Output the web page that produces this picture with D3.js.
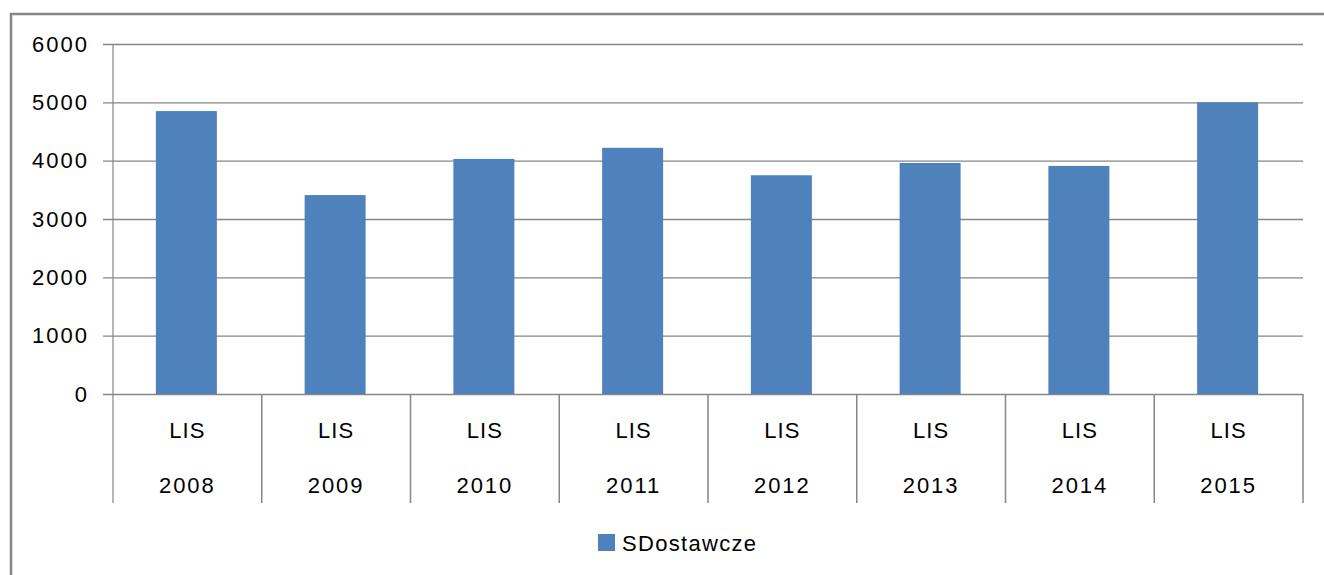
<!DOCTYPE html>
<html>
<head>
<meta charset="utf-8">
<script src="https://cdn.jsdelivr.net/npm/d3@7"></script>
<style>
  body { margin: 0; background: #fff; }
  svg text { font-family: "Liberation Sans", Arial, sans-serif; fill: #000; }
</style>
</head>
<body>
<div id="chart"></div>
<script>
const years = ["2008", "2009", "2010", "2011", "2012", "2013", "2014", "2015"];
const groupLabels = ["LIS", "LIS", "LIS", "LIS", "LIS", "LIS", "LIS", "LIS"];
const values = [4850, 3410, 4030, 4220, 3750, 3960, 3910, 5000];
const yTicks = [0, 1000, 2000, 3000, 4000, 5000, 6000];
const seriesName = "SDostawcze";

const width = 1324, height = 575;
const margin = { top: 44, left: 113, right: 21, bottom: 181 };
const plotW = width - margin.left - margin.right;
const plotH = height - margin.top - margin.bottom;
const grid = "#868686";
const barColor = "#4F81BD";

const data = years.map((y, i) => ({ year: y, label: groupLabels[i], value: values[i] }));

const svg = d3.select("#chart").append("svg")
  .attr("width", width)
  .attr("height", height);

// outer chart border
svg.append("rect")
  .attr("x", 11).attr("y", 14)
  .attr("width", width + 10).attr("height", height + 10)
  .attr("fill", "none")
  .attr("stroke", grid)
  .attr("stroke-width", 2.5);

const chart = svg.append("g")
  .attr("transform", `translate(${margin.left},${margin.top})`);

const x = d3.scaleBand()
  .domain(years)
  .range([0, plotW]);

const y = d3.scaleLinear()
  .domain([0, 6000])
  .range([plotH, 0]);

// gridlines + y axis
const yAxis = chart.append("g")
  .call(d3.axisLeft(y).tickValues(yTicks).tickFormat(d3.format("d"))
    .tickSize(-plotW).tickPadding(24).tickSizeOuter(0));
yAxis.select(".domain").remove();
yAxis.selectAll(".tick line")
  .attr("x1", -10)
  .attr("stroke", grid)
  .attr("stroke-width", 1.3);
yAxis.selectAll(".tick text")
  .style("font-size", "22px")
  .style("letter-spacing", "2px")
  .attr("fill", "#000");

// vertical axis line
chart.append("line")
  .attr("x1", 0).attr("x2", 0)
  .attr("y1", 0).attr("y2", plotH + 109)
  .attr("stroke", grid)
  .attr("stroke-width", 1.2);

// bars
const barW = x.bandwidth() * 0.41;
chart.selectAll(".bar")
  .data(data)
  .enter()
  .append("rect")
  .attr("class", "bar")
  .attr("x", d => x(d.year) + x.bandwidth() / 2 - barW / 2 - 1)
  .attr("y", d => y(d.value))
  .attr("width", barW)
  .attr("height", d => plotH - y(d.value))
  .attr("fill", barColor);

// category separators
chart.selectAll(".sep")
  .data(years)
  .enter()
  .append("line")
  .attr("x1", d => x(d) + x.bandwidth())
  .attr("x2", d => x(d) + x.bandwidth())
  .attr("y1", plotH)
  .attr("y2", plotH + 109)
  .attr("stroke", grid)
  .attr("stroke-width", 1.5);

// category labels (two levels)
chart.selectAll(".lab1")
  .data(data)
  .enter()
  .append("text")
  .attr("x", d => x(d.year) + x.bandwidth() / 2)
  .attr("y", plotH + 36)
  .attr("dy", "0.35em")
  .attr("text-anchor", "middle")
  .style("font-size", "22px")
  .style("letter-spacing", "1px")
  .text(d => d.label);

chart.selectAll(".lab2")
  .data(data)
  .enter()
  .append("text")
  .attr("x", d => x(d.year) + x.bandwidth() / 2)
  .attr("y", plotH + 91)
  .attr("dy", "0.35em")
  .attr("text-anchor", "middle")
  .style("font-size", "22px")
  .style("letter-spacing", "2px")
  .text(d => d.year);

// legend
const legend = svg.append("g").attr("transform", "translate(598,534)");
legend.append("rect")
  .attr("width", 17).attr("height", 17)
  .attr("fill", barColor);
legend.append("text")
  .attr("x", 24).attr("y", 9)
  .attr("dy", "0.35em")
  .style("font-size", "22px")
  .style("letter-spacing", "1.3px")
  .text(seriesName);
</script>
</body>
</html>
